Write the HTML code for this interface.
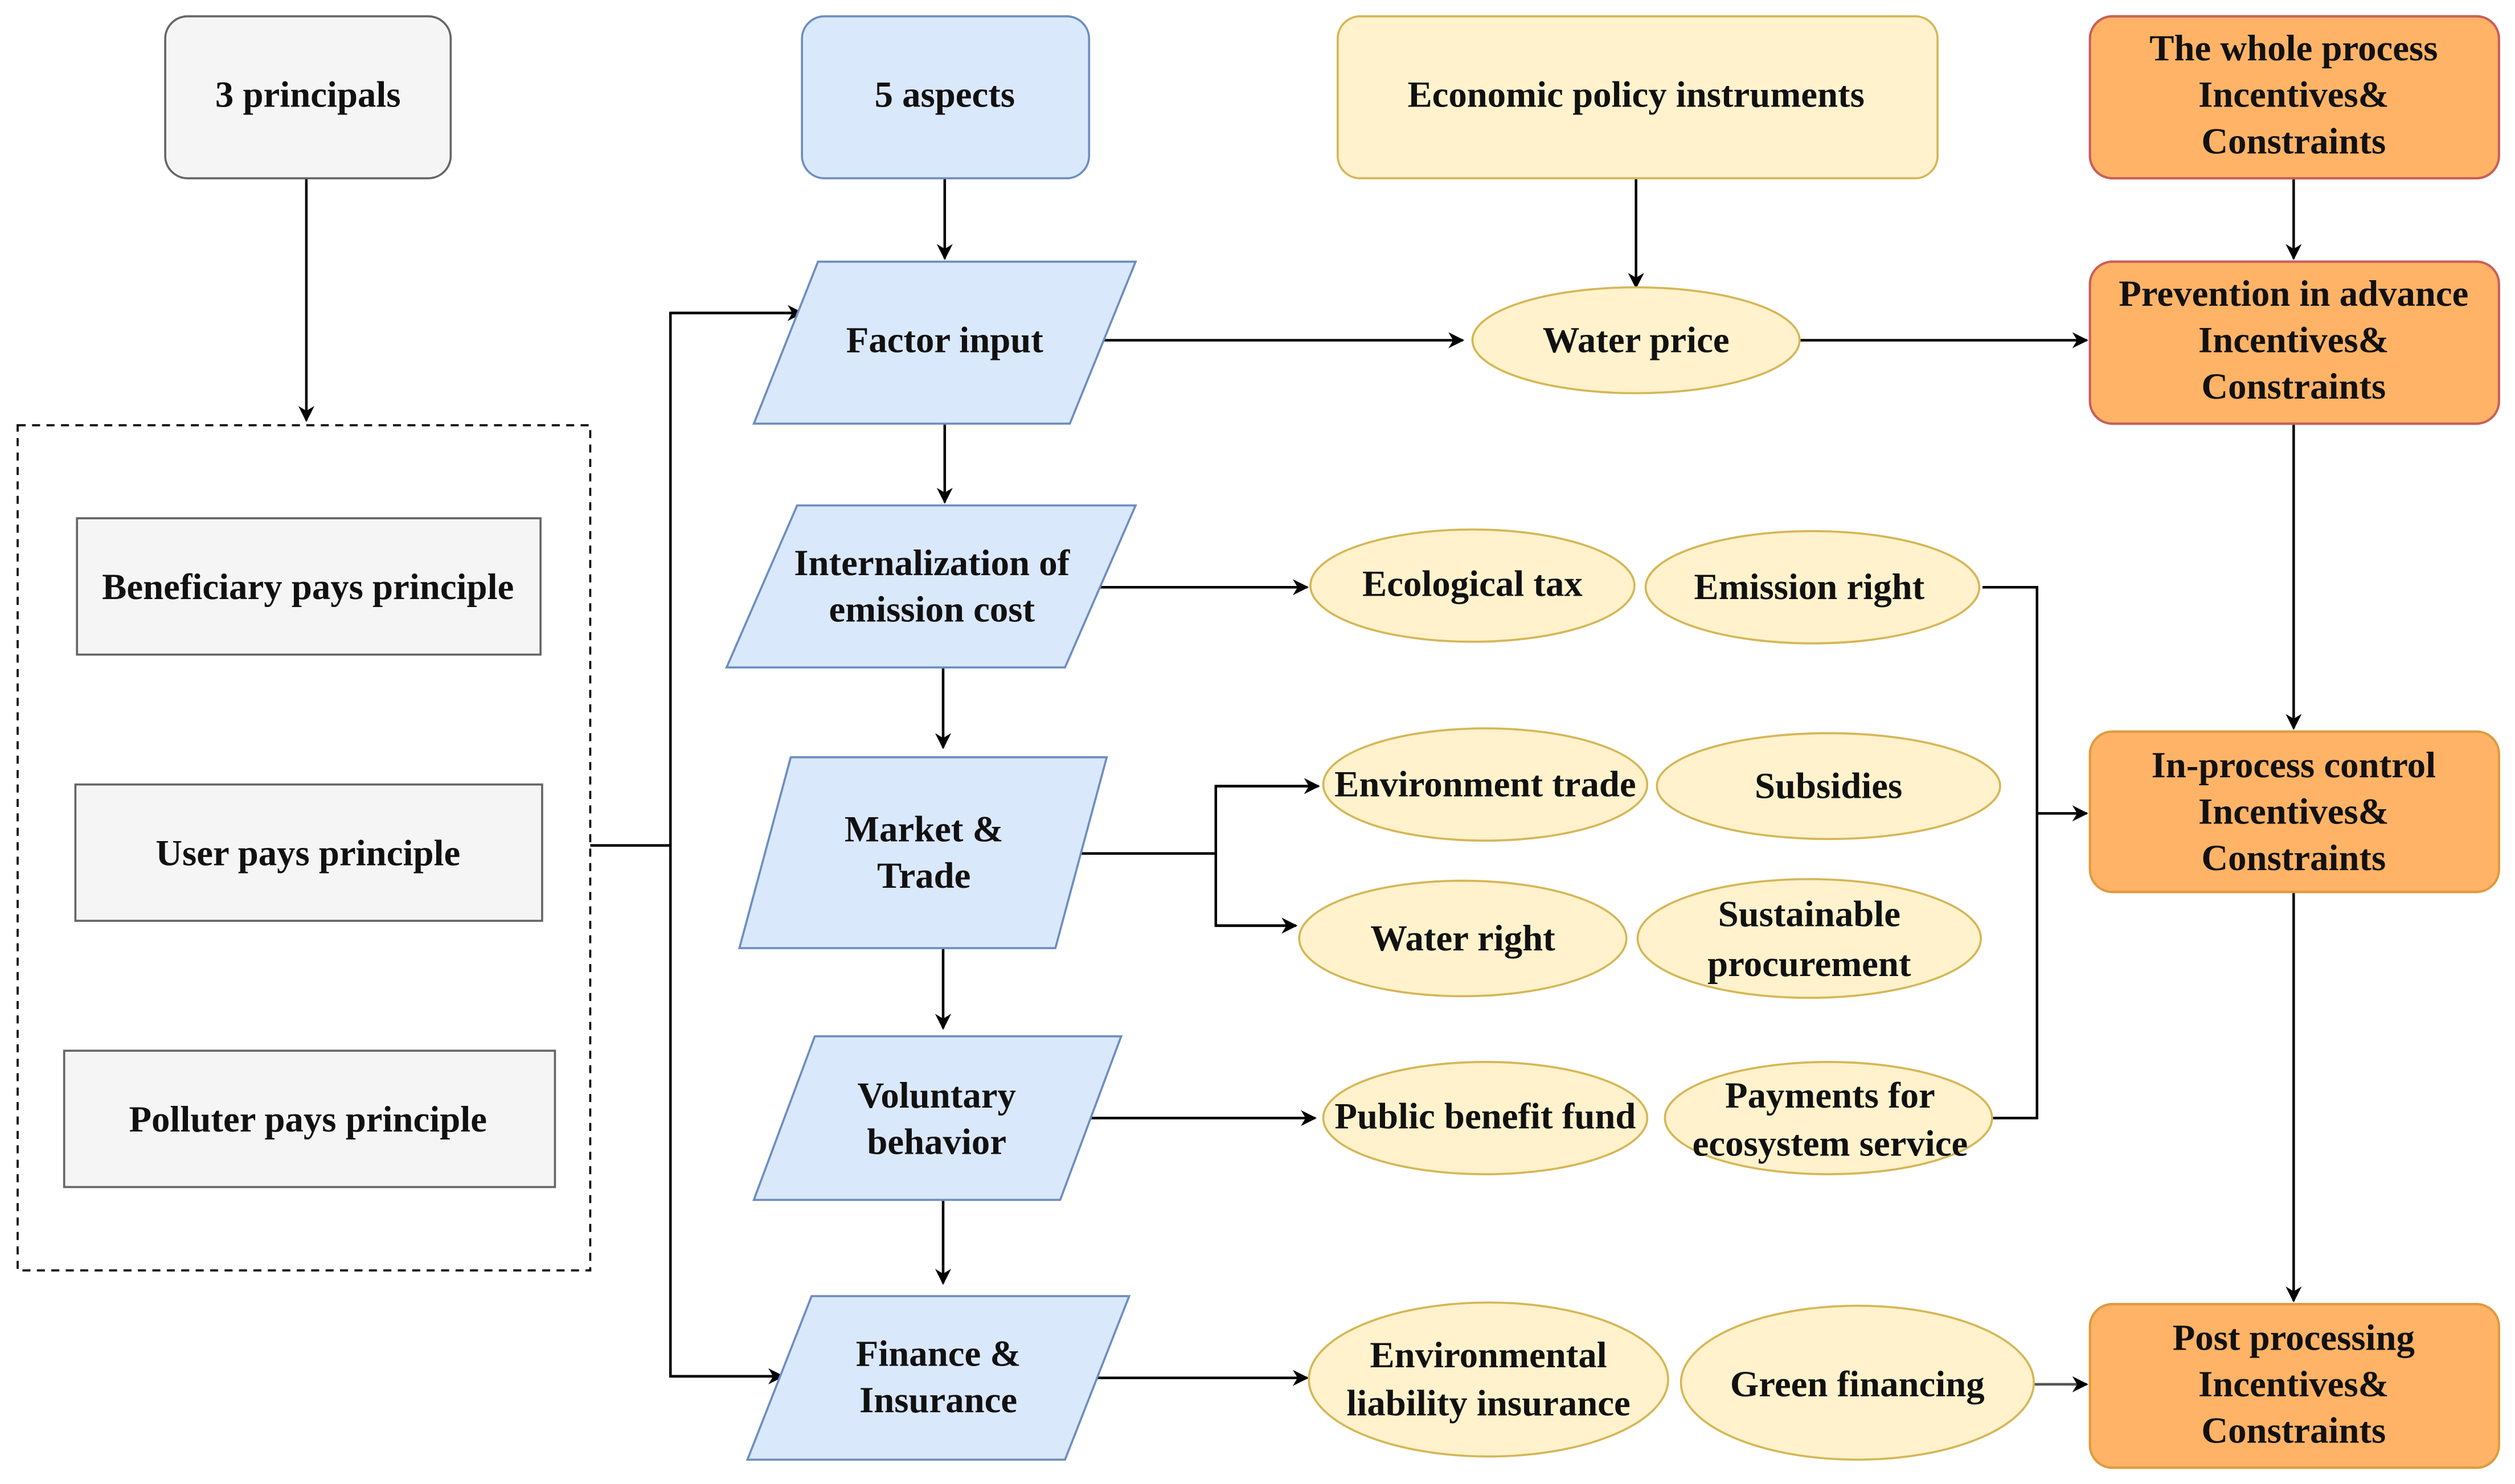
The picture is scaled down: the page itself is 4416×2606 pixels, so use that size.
<!DOCTYPE html>
<html><head><meta charset="utf-8"><style>
html,body{margin:0;padding:0;background:#fff;}
svg{display:block;}
svg text{font-family:'Liberation Serif','Times New Roman',serif;font-weight:bold;font-size:23px;fill:#111;text-anchor:middle;dominant-baseline:central;}
</style></head><body>
<svg width="4416" height="2606" viewBox="0 0 1568 925" xmlns="http://www.w3.org/2000/svg">
<defs><marker id="a" markerWidth="10" markerHeight="10" refX="9" refY="5" orient="auto" markerUnits="userSpaceOnUse"><path d="M0,0 L10,5 L0,10 L3,5 z" fill="#000"/></marker></defs>
<g stroke="#000" stroke-width="1.6" fill="none">
<line x1="191" y1="111" x2="191" y2="262" marker-end="url(#a)"/>
<line x1="589" y1="111" x2="589" y2="161" marker-end="url(#a)"/>
<line x1="1020" y1="111" x2="1020" y2="179" marker-end="url(#a)"/>
<line x1="1430" y1="111" x2="1430" y2="161" marker-end="url(#a)"/>
<line x1="688" y1="212" x2="912" y2="212" marker-end="url(#a)"/>
<line x1="1122" y1="212" x2="1301" y2="212" marker-end="url(#a)"/>
<line x1="1430" y1="264" x2="1430" y2="454" marker-end="url(#a)"/>
<line x1="1430" y1="556" x2="1430" y2="811" marker-end="url(#a)"/>
<line x1="589" y1="264" x2="589" y2="313" marker-end="url(#a)"/>
<line x1="588" y1="416" x2="588" y2="466" marker-end="url(#a)"/>
<line x1="588" y1="591" x2="588" y2="641" marker-end="url(#a)"/>
<line x1="588" y1="748" x2="588" y2="800" marker-end="url(#a)"/>
<polyline points="368,527 418,527"/>
<polyline points="500,195 418,195 418,858 488,858"/>
<line x1="418" y1="195" x2="500" y2="195" marker-end="url(#a)"/>
<line x1="418" y1="858" x2="488" y2="858" marker-end="url(#a)"/>
<line x1="684" y1="366" x2="815" y2="366" marker-end="url(#a)"/>
<polyline points="666,532 758,532"/>
<polyline points="822,490 758,490 758,577 808,577"/>
<line x1="758" y1="490" x2="822" y2="490" marker-end="url(#a)"/>
<line x1="758" y1="577" x2="808" y2="577" marker-end="url(#a)"/>
<line x1="678" y1="697" x2="820" y2="697" marker-end="url(#a)"/>
<line x1="680" y1="859" x2="815" y2="859" marker-end="url(#a)"/>
<line x1="1268" y1="863" x2="1301" y2="863" stroke="#555" marker-end="url(#a)"/>
<polyline points="1236,366 1270,366 1270,697 1242,697"/>
<line x1="1270" y1="507" x2="1301" y2="507" marker-end="url(#a)"/>
</g>
<rect x="11" y="265" width="357" height="527" fill="none" stroke="#000" stroke-width="1.3" stroke-dasharray="5,4"/>
<g fill="#f5f5f5" stroke="#666" stroke-width="1.3">
<rect x="103" y="10" width="178" height="101" rx="14"/>
<rect x="48" y="323" width="289" height="85"/>
<rect x="47" y="489" width="291" height="85"/>
<rect x="40" y="655" width="306" height="85"/>
</g>
<rect x="500" y="10" width="179" height="101" rx="14" fill="#dae8fc" stroke="#6c8ebf" stroke-width="1.3"/>
<rect x="834" y="10" width="374" height="101" rx="14" fill="#fff2cc" stroke="#d6b656" stroke-width="1.3"/>
<g fill="#ffb366" stroke="#c8605a" stroke-width="1.5">
<rect x="1303" y="10" width="255" height="101" rx="14"/>
<rect x="1303" y="163" width="255" height="101" rx="14"/>
</g>
<g fill="#ffb366" stroke="#e09a40" stroke-width="1.5">
<rect x="1303" y="456" width="255" height="100" rx="14"/>
<rect x="1303" y="813" width="255" height="102" rx="14"/>
</g>
<g fill="#dae8fc" stroke="#6c8ebf" stroke-width="1.3">
<polygon points="510,163 708,163 667,264 470,264"/>
<polygon points="497,315 708,315 664,416 453,416"/>
<polygon points="493,472 690,472 658,591 461,591"/>
<polygon points="508,646 699,646 661,748 470,748"/>
<polygon points="506,808 704,808 664,910 466,910"/>
</g>
<g fill="#fff2cc" stroke="#d6b656" stroke-width="1.3">
<ellipse cx="1020" cy="212" rx="102" ry="33"/>
<ellipse cx="918" cy="365" rx="101" ry="35"/>
<ellipse cx="1130" cy="366" rx="104" ry="35"/>
<ellipse cx="926" cy="489" rx="101" ry="35"/>
<ellipse cx="1140" cy="490" rx="107" ry="33"/>
<ellipse cx="912" cy="585" rx="102" ry="36"/>
<ellipse cx="1128" cy="585" rx="107" ry="37"/>
<ellipse cx="926" cy="697" rx="101" ry="35"/>
<ellipse cx="1140" cy="697" rx="102" ry="35"/>
<ellipse cx="928" cy="860" rx="112" ry="48"/>
<ellipse cx="1158" cy="862" rx="110" ry="48"/>
</g>
<g font-family="Liberation Serif, serif" font-weight="bold">
<text x="192" y="59">3 principals</text>
<text x="589" y="59">5 aspects</text>
<text x="1020" y="59">Economic policy instruments</text>
<text x="1430" y="30">The whole process</text>
<text x="1430" y="59">Incentives&amp;</text>
<text x="1430" y="88">Constraints</text>
<text x="1430" y="183">Prevention in advance</text>
<text x="1430" y="212">Incentives&amp;</text>
<text x="1430" y="241">Constraints</text>
<text x="1430" y="477">In-process control</text>
<text x="1430" y="506">Incentives&amp;</text>
<text x="1430" y="535">Constraints</text>
<text x="1430" y="834">Post processing</text>
<text x="1430" y="863">Incentives&amp;</text>
<text x="1430" y="892">Constraints</text>
<text x="192" y="366">Beneficiary pays principle</text>
<text x="192" y="532">User pays principle</text>
<text x="192" y="698">Polluter pays principle</text>
<text x="589" y="212">Factor input</text>
<text x="581" y="351">Internalization of</text>
<text x="581" y="380">emission cost</text>
<text x="576" y="517">Market &amp;</text>
<text x="576" y="546">Trade</text>
<text x="584" y="683">Voluntary</text>
<text x="584" y="712">behavior</text>
<text x="585" y="844">Finance &amp;</text>
<text x="585" y="873">Insurance</text>
<text x="1020" y="212">Water price</text>
<text x="918" y="364">Ecological tax</text>
<text x="1128" y="366">Emission right</text>
<text x="926" y="489">Environment trade</text>
<text x="1140" y="490">Subsidies</text>
<text x="912" y="585">Water right</text>
<text x="1128" y="570">Sustainable</text>
<text x="1128" y="601">procurement</text>
<text x="926" y="696">Public benefit fund</text>
<text x="1141" y="683">Payments for</text>
<text x="1141" y="713">ecosystem service</text>
<text x="928" y="845">Environmental</text>
<text x="928" y="875">liability insurance</text>
<text x="1158" y="863">Green financing</text>
</g>
</svg>
</body></html>
